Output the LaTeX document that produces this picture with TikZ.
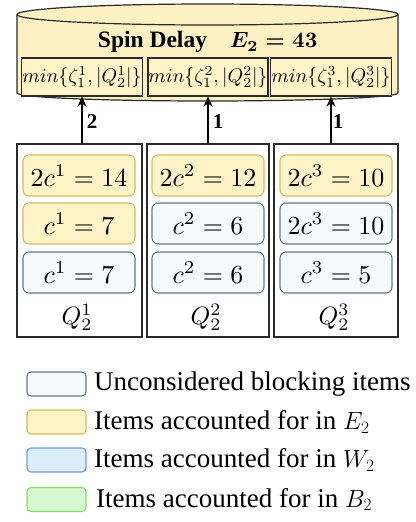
\documentclass[tikz,border=0pt]{standalone}
\usepackage{fontspec}
\setmainfont{Liberation Serif}
\usetikzlibrary{arrows.meta,calc}
\definecolor{cylfill}{HTML}{FDF1C4}
\definecolor{yfill}{HTML}{FFF4C8}
\definecolor{ydraw}{HTML}{D9B95A}
\definecolor{gfill}{HTML}{F6FAFB}
\definecolor{gdraw}{HTML}{66767E}
\definecolor{bfill}{HTML}{DDEEFF}
\definecolor{bdraw}{HTML}{6C9EEB}
\definecolor{grfill}{HTML}{D7F8D0}
\definecolor{grdraw}{HTML}{88DD66}
\definecolor{qdraw}{HTML}{2A2A2A}
\tikzset{
  item/.style={rounded corners=6pt,line width=1.1pt,minimum width=112pt,minimum height=41pt,inner sep=0pt},
  yitem/.style={item,fill=yfill,draw=ydraw},
  gitem/.style={item,fill=gfill,draw=gdraw},
  queue/.style={draw=qdraw,line width=1.4pt,inner sep=0pt},
  minbox/.style={draw=qdraw,line width=1.2pt,fill=yfill,minimum height=38pt,inner sep=0pt},
  qlabel/.style={inner sep=0pt},
  arr/.style={line width=2pt,-{Stealth[length=10pt,width=9pt]}},
  alabel/.style={font=\fontsize{21}{24}\selectfont\bfseries,inner sep=0pt},
  legbox/.style={rounded corners=4pt,line width=1.1pt,minimum width=59pt,minimum height=24pt,inner sep=0pt},
  legtext/.style={anchor=west,inner sep=0pt,font=\fontsize{27}{30}\selectfont},
}
\begin{document}
\begin{tikzpicture}[x=1pt,y=-1pt]
\useasboundingbox (0,0) rectangle (415,522);
% cylinder
\path[fill=cylfill,draw=qdraw,line width=1.2pt]
  (17,14.5) -- (17,93) arc[start angle=180,end angle=360,x radius=190.5,y radius=-8] -- (398,14.5)
  arc[start angle=0,end angle=180,x radius=190.5,y radius=-10.5] -- cycle;
\draw[qdraw,line width=1.2pt] (17,14.5) arc[start angle=180,end angle=360,x radius=190.5,y radius=-10.5];
\node[font=\fontsize{23.5}{27}\selectfont\bfseries,inner sep=0pt] (title) at (152.5,42) {Spin Delay};
\node[font=\boldmath,inner sep=0pt] (e2) at (273.5,42) {\scalebox{2.2}{$E_2 = 43$}};
\node[minbox,minimum width=121pt] (m1) at (82,77) {\scalebox{1.98}{$min\{\zeta_1^1,|Q_2^1|\}$}};
\node[minbox,minimum width=120pt] (m2) at (208,77) {\scalebox{1.98}{$min\{\zeta_1^2,|Q_2^2|\}$}};
\node[minbox,minimum width=121pt] (m3) at (331,77) {\scalebox{1.98}{$min\{\zeta_1^3,|Q_2^3|\}$}};
% queues
\node[queue,minimum width=125pt,minimum height=193pt] (q1) at (79.5,240.5) {};
\node[queue,minimum width=122pt,minimum height=193pt] (q2) at (208,240.5) {};
\node[queue,minimum width=124pt,minimum height=193pt] (q3) at (336,240.5) {};
\node[yitem] (a1) at (79,175.5) {\scalebox{2.6}{$2c^1 = 14$}};
\node[yitem] (a2) at (79,223.5) {\scalebox{2.6}{$c^1 = 7$}};
\node[gitem] (a3) at (79,272.5) {\scalebox{2.6}{$c^1 = 7$}};
\node[yitem] (b1) at (208,175.5) {\scalebox{2.6}{$2c^2 = 12$}};
\node[gitem] (b2) at (208,223.5) {\scalebox{2.6}{$c^2 = 6$}};
\node[gitem] (b3) at (208,272.5) {\scalebox{2.6}{$c^2 = 6$}};
\node[yitem] (c1) at (336,175.5) {\scalebox{2.6}{$2c^3 = 10$}};
\node[gitem] (c2) at (336,223.5) {\scalebox{2.6}{$2c^3 = 10$}};
\node[gitem] (c3) at (336,272.5) {\scalebox{2.6}{$c^3 = 5$}};
\node[qlabel] (ql1) at (77,317) {\scalebox{2.5}{$Q_2^1$}};
\node[qlabel] (ql2) at (206,317) {\scalebox{2.5}{$Q_2^2$}};
\node[qlabel] (ql3) at (334,317) {\scalebox{2.5}{$Q_2^3$}};
% arrows
\draw[arr] (q1.north -| m1.south) -- (m1.south);
\draw[arr] (q2.north -| m2.south) -- (m2.south);
\draw[arr] (q3.north -| m3.south) -- (m3.south);
\node[alabel] (l1) at (92,122) {2};
\node[alabel] (l2) at (218,122) {1};
\node[alabel] (l3) at (338,122) {1};
% legend
\node[legbox,fill=gfill,draw=gdraw] (g1) at (56.5,384) {};
\node[legbox,fill=yfill,draw=ydraw] (g2) at (56.5,422) {};
\node[legbox,fill=bfill,draw=bdraw] (g3) at (56.5,460) {};
\node[legbox,fill=grfill,draw=grdraw] (g4) at (56.5,499.5) {};
\node[legtext] (t1) at (94,384) {Unconsidered blocking items};
\node[legtext] (t2) at (94,422) {Items accounted for in $E_2$};
\node[legtext] (t3) at (94,460) {Items accounted for in $W_2$};
\node[legtext] (t4) at (96,499.5) {Items accounted for in $B_2$};
\end{tikzpicture}
\end{document}
